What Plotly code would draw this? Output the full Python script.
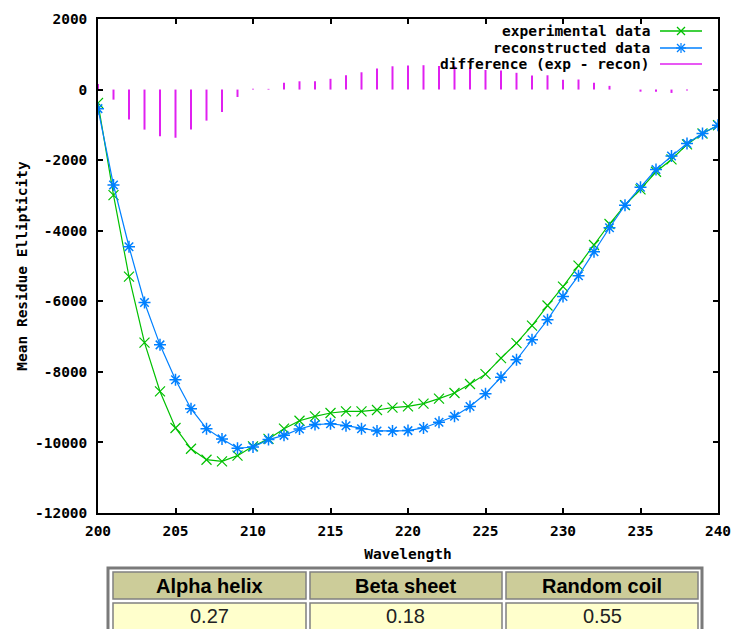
import plotly.graph_objects as go

# ---------------- data ----------------
wavelength = list(range(200, 241))
experimental = [
    -380, -2990, -5300, -7170, -8555, -9590, -10180, -10490, -10535, -10375,
    -10110, -9900, -9610, -9385, -9260, -9165, -9120, -9120, -9080, -9015,
    -8980, -8900, -8760, -8600, -8345, -8065, -7610, -7185, -6690, -6120,
    -5585, -4990, -4405, -3810, -3275, -2830, -2330, -1980, -1555, -1245,
    -1010,
]
reconstructed = [
    -540, -2705, -4455, -6035, -7235, -8225, -9045, -9610, -9900, -10165,
    -10130, -9920, -9800, -9620, -9495, -9470, -9525, -9610, -9675, -9675,
    -9665, -9590, -9430, -9260, -8980, -8620, -8150, -7660, -7090, -6525,
    -5865, -5275, -4595, -3915, -3275, -2770, -2265, -1885, -1530, -1245,
    -1010,
]
difference = [e - r for e, r in zip(experimental, reconstructed)]

x_ticks = [200, 205, 210, 215, 220, 225, 230, 235, 240]
y_ticks = [-12000, -10000, -8000, -6000, -4000, -2000, 0, 2000]

legend_labels = ["experimental data", "reconstructed data", "difference (exp - recon)"]
table_headers = ["Alpha helix", "Beta sheet", "Random coil"]
table_values = ["0.27", "0.18", "0.55"]

# ---------------- styling ----------------
W, H = 734, 629
GREEN = "#00c000"
BLUE = "#0080ff"
MAGENTA = "#e020f0"
MONO = "DejaVu Sans Mono"
FS = 14.5


def px(x):
    return x / W


def py(y):
    return 1 - y / H


# impulse (needle) representation of the difference
imp_x, imp_y = [], []
for w, d in zip(wavelength, difference):
    imp_x += [w, w, None]
    imp_y += [0, d, None]

fig = go.Figure()
fig.add_trace(go.Scatter(
    x=imp_x, y=imp_y, mode="lines", name=legend_labels[2],
    line=dict(color=MAGENTA, width=2), showlegend=False, hoverinfo="skip"))
fig.add_trace(go.Scatter(
    x=wavelength, y=experimental, mode="lines+markers", name=legend_labels[0],
    line=dict(color=GREEN, width=1.2),
    marker=dict(symbol="x-thin-open", size=10, color=GREEN, line=dict(color=GREEN, width=1.2)),
    showlegend=False))
fig.add_trace(go.Scatter(
    x=wavelength, y=reconstructed, mode="lines+markers", name=legend_labels[1],
    line=dict(color=BLUE, width=1.2),
    marker=dict(symbol="asterisk-open", size=10, color=BLUE, line=dict(color=BLUE, width=1.5)),
    showlegend=False))

axis_common = dict(
    showgrid=False, zeroline=False, showline=True, linecolor="black", linewidth=1.5,
    mirror="ticks", ticks="inside", ticklen=5, tickwidth=1.5, tickcolor="black",
    automargin=False,
    tickfont=dict(family=MONO, size=FS, color="black", weight="bold"),
)

fig.update_layout(
    width=W, height=H,
    margin=dict(l=0, r=0, t=0, b=0, autoexpand=False),
    paper_bgcolor="white", plot_bgcolor="white",
    showlegend=False,
    xaxis=dict(
        axis_common, domain=[px(98), px(718)], range=[200, 240],
        tickvals=x_ticks, ticktext=[str(v) for v in x_ticks],
        title=dict(text="Wavelength", font=dict(family=MONO, size=FS, color="black", weight="bold"),
                   standoff=11),
        ticklabelstandoff=4,
    ),
    yaxis=dict(
        axis_common, domain=[py(513), py(19)], range=[-12000, 2000],
        tickvals=y_ticks, ticktext=[str(v) for v in y_ticks],
        title=dict(text="Mean Residue Ellipticity",
                   font=dict(family=MONO, size=FS, color="black", weight="bold"), standoff=4),
        ticklabelstandoff=6,
    ),
)

# ---------------- custom gnuplot-style key ----------------
key_rows = [31, 48, 64]
key_colors = [GREEN, BLUE, MAGENTA]
shapes = []
annotations = []
for i, (lab, col, yy) in enumerate(zip(legend_labels, key_colors, key_rows)):
    annotations.append(dict(
        x=px(652), y=py(yy), xref="paper", yref="paper", xanchor="right", yanchor="middle",
        text=lab, showarrow=False, font=dict(family=MONO, size=FS, color="black", weight="bold")))
    shapes.append(dict(type="line", xref="paper", yref="paper",
                       x0=px(660), x1=px(702), y0=py(yy), y1=py(yy),
                       line=dict(color=col, width=1.5)))
    if i < 2:
        arms = [(-4, -4, 4, 4), (-4, 4, 4, -4)]
        if i == 1:
            arms += [(-5, 0, 5, 0), (0, -5, 0, 5)]
        for (a0, b0, a1, b1) in arms:
            shapes.append(dict(type="line", xref="paper", yref="paper",
                               xsizemode="pixel", ysizemode="pixel",
                               xanchor=px(681), yanchor=py(yy),
                               x0=a0, x1=a1, y0=b0, y1=b1,
                               line=dict(color=col, width=1.2)))

# ---------------- results table ----------------
shapes.append(dict(type="rect", xref="paper", yref="paper",
                   x0=px(108), x1=px(702), y0=py(568), y1=py(660),
                   line=dict(color="#7a7a7a", width=3), fillcolor="white", layer="below"))
cell_x = [(113, 306), (310, 502), (506, 698)]
for (x0, x1), head, val in zip(cell_x, table_headers, table_values):
    shapes.append(dict(type="rect", xref="paper", yref="paper",
                       x0=px(x0), x1=px(x1), y0=py(572), y1=py(599),
                       line=dict(color="#808080", width=1.5), fillcolor="#cccc99"))
    shapes.append(dict(type="rect", xref="paper", yref="paper",
                       x0=px(x0), x1=px(x1), y0=py(603), y1=py(660),
                       line=dict(color="#808080", width=1.5), fillcolor="#ffffcc"))
    annotations.append(dict(
        x=px((x0 + x1) / 2), y=py(586), xref="paper", yref="paper",
        xanchor="center", yanchor="middle", text=head, showarrow=False,
        font=dict(family="Liberation Sans", size=20, color="black", weight="bold")))
    annotations.append(dict(
        x=px((x0 + x1) / 2), y=py(616), xref="paper", yref="paper",
        xanchor="center", yanchor="middle", text=val, showarrow=False,
        font=dict(family="Liberation Sans", size=20, color="#222222")))

fig.update_layout(shapes=shapes, annotations=annotations)
fig.write_html("out.html")
